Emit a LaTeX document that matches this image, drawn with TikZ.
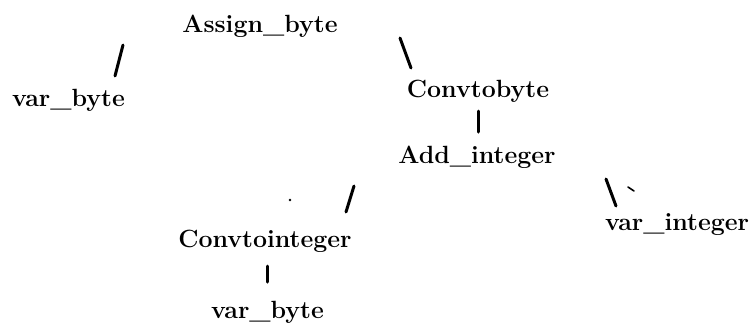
\documentclass[tikz,border=0pt]{standalone}
\begin{document}
\begin{tikzpicture}[x=1bp,y=-1bp,
  term/.style={anchor=base,inner sep=0pt,font=\fontsize{25}{30}\selectfont\bfseries},
  stroke/.style={line width=3bp,line cap=round}]
\useasboundingbox (0,0) rectangle (751,327);

% tree nodes
\node[term] (assign) at (260,32)  {Assign\_byte};
\node[term] (vb1)    at (68.5,106) {var\_byte};
\node[term] (ctb)    at (478,97)  {Convtobyte};
\node[term] (addi)   at (477,163) {Add\_integer};
\node[term] (cti)    at (265,247) {Convtointeger};
\node[term] (vb2)    at (267.5,318) {var\_byte};
\node[term] (vi)     at (677,230) {var\_integer};

% short branch strokes
\coordinate (a1) at (123,45);  \coordinate (a2) at (115,76);
\coordinate (b1) at (400,38);  \coordinate (b2) at (411,68);
\coordinate (c1) at (478,111); \coordinate (c2) at (478,132);
\coordinate (d1) at (354,186); \coordinate (d2) at (346,212);
\coordinate (e1) at (606,179); \coordinate (e2) at (616,206);
\coordinate (f1) at (267,266); \coordinate (f2) at (267,282);

\draw[stroke] (a1) -- (a2);
\draw[stroke] (b1) -- (b2);
\draw[stroke] (c1) -- (c2);
\draw[stroke] (d1) -- (d2);
\draw[stroke] (e1) -- (e2);
\draw[stroke] (f1) -- (f2);

% small specks
\coordinate (s1) at (290,200);
\fill (s1) circle (1.4);
\coordinate (t1) at (628,187); \coordinate (t2) at (634,191);
\draw[line width=1.6bp,line cap=round] (t1) -- (t2);
\end{tikzpicture}
\end{document}
